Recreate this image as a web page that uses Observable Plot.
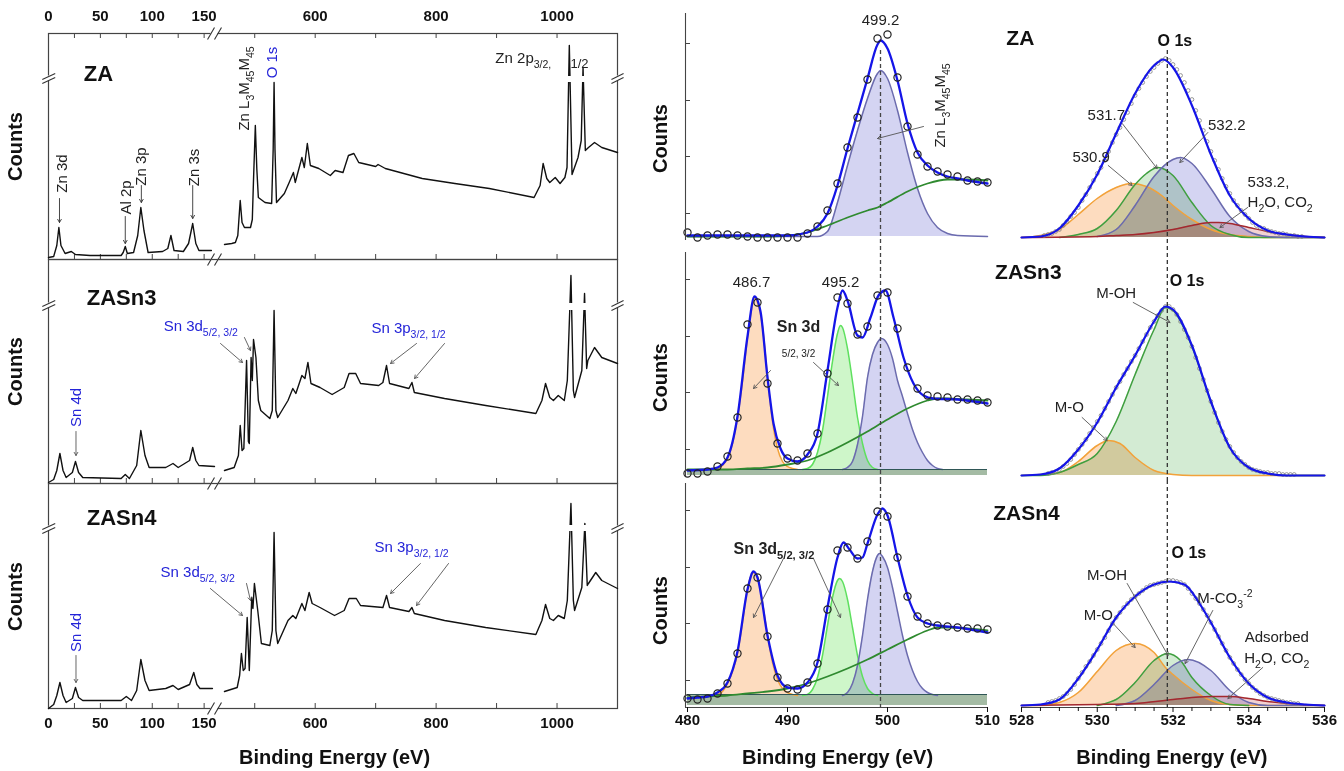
<!DOCTYPE html>
<html><head><meta charset="utf-8">
<script src="https://cdn.jsdelivr.net/npm/d3@7"></script>
<script src="https://cdn.jsdelivr.net/npm/@observablehq/plot@0.6"></script>
<style>
body{margin:0;background:#fff;}
#fig{position:relative;width:1344px;height:771px;overflow:hidden;background:#fff;}
#fig svg{position:absolute;overflow:visible;}
#fig g[aria-label="x-axis tick label"]{font-weight:bold;font-size:15px;}
</style></head><body><div id="fig"></div>
<script>
// ---------------- DATA ----------------
// Survey spectra: [binding energy (eV), counts (a.u.)], two segments of a broken axis
const surveyZA_lo = [[0,2],[5,3],[8,14],[10,32],[12,14],[16,6],[22,8],[26,5],[40,4],[70,4],[72,7],[74,13],[76,6],[82,7],[86,24],[89,52],[92,29],[96,7],[110,8],[115,11],[118,24],[121,9],[130,8],[135,16],[139,36],[142,16],[145,9],[157,9]];
const surveyZA_hi = [[450,15],[462,16],[468,17],[472,24],[476,59],[479,37],[483,32],[493,32],[496,40],[498,80],[501,134],[503.5,90],[506,62],[517,57],[528,56],[530.5,110],[532,177],[533.5,110],[536,57],[549,66],[557,77],[564,87],[567,77],[578,102],[582,92],[587,116],[592,94],[606,91],[625,84],[633,89],[646,87],[655,104],[664,106],[672,97],[700,93],[704,95],[716,91],[777,81],[831,76],[888,71],[962,62],[972,74],[977,96],[983,81],[988,77],[997,82],[1005,76],[1013,82],[1016.5,92],[1020.3,214],[1024.8,85],[1034.7,102],[1040,119],[1043,192],[1046.8,109],[1052,112],[1062,117],[1074,112],[1100,107]];
const surveySn3_lo = [[0,1],[5,4],[8,13],[11,30],[14,13],[17,6],[23,11],[26,22],[29,11],[33,6],[70,5],[74,9],[78,5],[85,18],[89,53],[93,28],[97,16],[113,16],[120,20],[125,16],[136,23],[139,36],[142,23],[145,18],[160,17]];
const surveySn3_hi = [[450,13],[466,16],[473,28],[476,58],[479,33],[482,35],[486.5,123],[489.5,42],[491,40],[494,126],[496,103],[498,144],[502,126],[506,83],[510,73],[525,65],[529,73],[532,173],[535,73],[538,66],[555,83],[563,95],[568,90],[578,108],[583,105],[588,121],[593,100],[608,96],[628,89],[648,96],[656,110],[667,110],[675,100],[705,98],[712,101],[718,118],[723,100],[755,95],[760,101],[764,91],[814,85],[882,78],[965,70],[975,83],[981,100],[988,86],[994,83],[1002,88],[1012,83],[1017,103],[1023,208],[1027,93],[1029,86],[1041,113],[1045.5,190],[1049,115],[1051,123],[1062,136],[1074,126],[1100,120]];
const surveySn4_lo = [[0,0],[5,4],[8,13],[11,26],[14,13],[17,6],[23,10],[26,21],[29,11],[33,8],[70,8],[75,12],[80,8],[85,18],[89,49],[93,28],[97,18],[113,20],[120,23],[125,19],[136,24],[140,36],[143,24],[146,20],[158,20]];
const surveySn4_hi = [[450,17],[471,21],[475,33],[478,55],[481,38],[484,40],[487.5,91],[491,38],[495,111],[497,100],[499.5,125],[505,98],[511,65],[525,63],[529,78],[532,176],[535,78],[538,65],[555,88],[563,93],[568,90],[578,105],[583,98],[590,116],[595,105],[608,101],[632,93],[648,98],[656,110],[668,110],[675,103],[712,101],[718,113],[723,101],[755,97],[760,101],[764,95],[814,88],[882,81],[965,74],[975,88],[981,104],[988,90],[994,88],[1002,93],[1012,90],[1017,108],[1023,205],[1027,108],[1029,98],[1041,121],[1046,185],[1050,123],[1052,125],[1064,136],[1074,128],[1100,120]];
const surveyTicksMajor = [0,50,100,150,600,800,1000];
const surveyTicksMinor = [25,50,75,100,125,150,500,600,700,800,900,1000];
const surveyBreak = [160, 450]; // the x axis jumps from 160 eV to 450 eV

// Zn LMM / Sn 3d region (480-510 eV): measured points every 1 eV from 480
const pointsStart = 480;
const znPointsZA  = [8,3,5,6,6,5,4,3,3,3,3,3,7,14,30,57,93,123,161,202,206,163,114,86,74,69,66,64,60,59,58];
const znPointsSn3 = [3,3,5,10,20,59,152,174,93,33,18,16,23,43,103,179,173,142,150,181,184,148,109,88,81,80,79,77,77,76,74];
const znPointsSn4 = [9,8,9,14,24,54,119,130,71,30,19,18,25,44,98,157,160,149,166,196,191,150,111,91,84,82,81,80,79,79,78];
const znEnvZA  = [[480,5],[486,5],[490,5],[492,8],[493,14],[494,27],[495,55],[496,92],[497,127],[498,162],[499,196],[499.3,200],[500,192],[501,160],[502,117],[503,88],[504,75],[505,68],[506,64],[507,62],[508,60],[510,57]];
const znLmmZA  = [[480,4],[493,4],[494,9],[495,38],[496,75],[497,110],[498,142],[499,167],[499.3,170],[500,162],[501,130],[502,88],[503,52],[504,27],[505,13],[506,7],[507,5],[510,4]];
const znBgZA   = [[480,4],[488,4],[490,5],[492,8],[494,15],[496,23],[498,30],[499,33],[500,38],[502,49],[504,57],[506,61],[508,61],[510,60]];
const sn3Env   = [[480,6],[482,7],[483,9],[484,19],[485,60],[486,140],[486.7,180],[487.3,165],[488,99],[488.6,53],[489.3,28],[490,18],[491,15],[492,22],[493,43],[494,106],[495,169],[495.5,186],[496,176],[497,141],[497.5,139],[498.3,159],[499.1,181],[499.8,186],[500.6,159],[501.6,119],[502.6,93],[503.6,81],[504.6,78],[507,77],[510,73]];
const sn3D52    = [[482.5,7],[483,8],[483.5,11],[484,18],[484.5,33],[485,59],[485.5,95],[486,139],[486.5,172],[486.7,179],[487,174],[487.5,150],[488,100],[488.5,55],[489,28],[489.5,15],[490,10],[490.5,8],[491,7]];
const sn3D32    = [[491.5,7],[492,8],[492.5,12],[493,24],[493.5,46],[494,80],[494.5,115],[495,143],[495.3,151],[495.5,149],[496,128],[496.5,95],[497,59],[497.5,33],[498,16],[498.5,9],[499,7]];
const sn3Lmm    = [[495.5,7],[496,9],[496.5,15],[497,32],[497.5,60],[498,99],[498.5,122],[499,134],[499.4,138],[500,132],[500.5,118],[501,96],[501.5,80],[502,63],[502.5,47],[503,34],[503.5,24],[504,16],[504.5,11],[505,8],[505.5,7]];
const sn3Bg     = [[480,7],[484,7],[486,8],[488,9],[490,12],[492,16],[494,24],[496,34],[498,45],[500,57],[502,68],[504,76],[505,78],[506,78],[508,77],[510,76]];
const sn4Env   = [[480,9],[481,10],[482,11],[483,15],[484,25],[485,56],[486,118],[486.6,136],[487,130],[488,72],[489,32],[490,20],[491,19],[492,25],[493,45],[494,100],[495,150],[495.6,165],[496.2,158],[497,149],[497.5,150],[498,164],[499,193],[499.5,199],[500,192],[501,150],[502,112],[503,90],[504,84],[505,82],[507,80],[510,75]];
const sn4D52    = [[482,12],[482.5,12],[483,13],[483.5,16],[484,24],[484.5,36],[485,54],[485.5,85],[486,119],[486.5,134],[486.7,135],[487,131],[487.5,105],[488,72],[488.5,45],[489,28],[489.5,19],[490,15],[490.5,13],[491,12]];
const sn4D32    = [[491.5,12],[492,13],[492.5,18],[493,30],[493.5,52],[494,82],[494.5,110],[495,127],[495.2,129],[495.5,126],[496,108],[496.5,80],[497,52],[497.5,31],[498,19],[498.5,14],[499,12]];
const sn4Lmm    = [[495.5,12],[496,15],[496.5,24],[497,42],[497.5,72],[498,108],[498.5,136],[499,152],[499.2,154],[499.5,151],[500,140],[500.5,120],[501,96],[501.5,72],[502,52],[502.5,37],[503,26],[503.5,19],[504,15],[504.5,13],[505,12]];
const sn4Bg     = [[480,10],[482,11],[484,12],[486,14],[488,16],[490,19],[492,24],[494,31],[496,39],[498,48],[500,58],[502,68],[504,77],[505,80],[506,80],[508,79],[510,77]];
const bandSn3 = [1, 7];
const bandSn4 = [2, 13];

// O 1s region (528-536 eV): measured points every 0.1 eV
const o1sStep = 0.1;
const o1sStartZA = 528.6;
const o1sPointsZA = [5,6,7,9,11,15,19,24,28,33,40,46,53,60,67,73,80,89,98,106,113,121,128,137,145,152,158,164,169,173,177,180,182,180,176,171,165,158,150,141,130,120,110,99,89,80,71,62,54,47,40,35,30,26,22,18,15,13,12,10,9,8,7,7,6,5,5,4,4];
const o1sStartSn3 = 528.7;
const o1sPointsSn3 = [3,4,5,7,10,13,17,22,27,32,37,43,49,55,61,68,75,82,89,95,102,108,115,121,128,135,142,149,155,161,166,170,170,167,162,155,147,139,130,119,108,97,86,75,64,54,45,37,30,24,19,15,12,9,7,6,5,4,4,3,3,3,2,2,2,2];
const o1sStartSn4 = 528.7;
const o1sPointsSn4 = [5,6,7,9,11,14,18,23,29,35,41,46,52,58,64,70,77,84,90,95,100,104,108,111,114,117,120,122,123,124,125,126,127,127,126,125,123,119,114,109,104,98,92,85,78,71,64,57,50,44,38,33,28,24,20,17,14,12,10,9,8,7,6,5,5,4,4];
const oEnvZA   = [[528,3],[528.5,4],[529,12],[529.5,35],[530,66],[530.5,107],[531,147],[531.5,175],[531.75,181],[532,173],[532.5,135],[533,86],[533.5,45],[534,22],[534.5,10],[535,6],[535.5,4],[536,3]];
const o530_9   = [[528,3],[528.5,5],[529,11],[529.5,26],[530,42],[530.5,53],[530.9,57],[531.3,54],[531.7,45],[532,35],[532.5,21],[533,11],[533.5,6],[534,4],[534.5,3],[536,3]];
const o531_7   = [[529,3],[529.5,6],[530,12],[530.5,30],[531,56],[531.3,67],[531.6,73],[532,65],[532.5,38],[533,15],[533.5,6],[534,3],[536,3]];
const o532_2   = [[530,4],[530.5,11],[531,35],[531.5,64],[532,81],[532.2,83],[532.5,77],[533,52],[533.5,24],[534,9],[534.5,4],[535,3],[536,3]];
const o533_2   = [[528,3],[530,4],[530.5,5],[531,6],[531.5,8],[532,11],[532.5,15],[533,18],[533.2,18],[533.5,17],[534,13],[534.5,9],[535,6],[535.5,4],[536,3]];
const oEnvSn3  = [[528,1],[528.5,2],[529,8],[529.5,27],[530,54],[530.5,89],[531,121],[531.5,155],[531.8,170],[532,167],[532.5,131],[533,75],[533.5,29],[534,9],[534.5,3],[535,1],[536,1]];
const oMO_Sn3  = [[528,1],[528.5,2],[529,4],[529.5,15],[530,31],[530.3,36],[530.6,33],[531,19],[531.5,6],[532,2],[532.5,1],[536,1]];
const oMOH_Sn3 = [[528,1],[528.5,1],[529,4],[529.5,12],[530,23],[530.5,55],[531,102],[531.5,147],[531.8,169],[532,166],[532.5,130],[533,75],[533.5,29],[534,9],[534.5,3],[535,1],[536,1]];
const oEnvSn4  = [[528,2],[528.5,3],[529,8],[529.5,29],[530,58],[530.5,90],[531,111],[531.5,123],[531.9,126],[532.3,123],[532.7,104],[533,85],[533.5,50],[534,24],[534.5,10],[535,5],[535.5,3],[536,2]];
const oMO_Sn4  = [[528,2],[528.5,2],[529,5],[529.5,15],[530,36],[530.5,57],[531,64],[531.5,55],[531.8,40],[532,33],[532.5,18],[533,7],[533.5,3],[534,2],[536,2]];
const oMOH_Sn4 = [[530,2],[530.3,5],[530.5,8],[531,25],[531.5,47],[531.85,54],[532.2,47],[532.5,30],[533,12],[533.5,3],[534,2]];
const oMCO_Sn4 = [[530.5,2],[531,7],[531.5,23],[532,42],[532.4,48],[533,37],[533.5,17],[534,5],[534.5,2],[536,2]];
const oAds_Sn4 = [[528,2],[530,3],[531,4],[532,8],[533,11],[533.5,11],[534,9],[534.5,6],[535,4],[536,2]];
const refZn = 499.3, refO = 531.85;

// ---------------- helpers ----------------
const FONT = "'Liberation Sans', Arial, Helvetica, sans-serif";
const fig = document.getElementById("fig");
const C = {orange:"#f2a23a", orangeFill:"#fddcbf", green:"#3f9f3f", greenFill:"#d3ebd3", lgreen:"#5ee05e", lgreenFill:"#cef6c9",
  purple:"#6b6bae", purpleFill:"#d4d4f2", red:"#a3282f", redFill:"#f2d2d2", blue:"#1515e8", bg:"#2f8a2f",
  band:"#a4bba4", bandLine:"#2f5656", ink:"#111", note:"#222", snBlue:"#2424d8", arrow:"#555"};

function subify(svg) {
  const ns = "http://www.w3.org/2000/svg";
  for (const el of svg.querySelectorAll("text, tspan")) {
    if (el.children.length) continue;
    const s = el.textContent;
    if (!/[_^]\{/.test(s)) continue;
    const fs = parseFloat(getComputedStyle(el).fontSize) || 15;
    el.textContent = "";
    let cur = 0;
    for (const p of s.split(/([_^]\{[^}]*\})/)) {
      if (!p) continue;
      const m = p.match(/^([_^])\{(.*)\}$/);
      const ts = document.createElementNS(ns, "tspan");
      const target = m ? (m[1] === "_" ? 0.32 * fs : -0.42 * fs) : 0;
      if (target !== cur) { ts.setAttribute("dy", (target - cur).toFixed(2)); cur = target; }
      if (m) ts.setAttribute("font-size", (0.7 * fs).toFixed(1));
      ts.textContent = m ? m[2] : p;
      el.appendChild(ts);
    }
  }
}
function mk(opts, left, top) {
  const svg = Plot.plot({...opts, style: {background: "transparent", overflow: "visible", fontFamily: FONT, fontSize: "15px", color: "#111"}});
  svg.style.position = "absolute"; svg.style.left = left + "px"; svg.style.top = top + "px";
  fig.appendChild(svg);
  subify(svg);
  return svg;
}
const X = d => d[0], Y = d => d[1];
const txt = (arr, o = {}) => Plot.text(arr, {x: "x", y: "y", text: "t", fontFamily: FONT, fontSize: 15, fill: C.note, ...o});
const arrows = (arr, color = C.arrow) => Plot.arrow(arr, {x1: "x1", y1: "y1", x2: "x2", y2: "y2", stroke: color, strokeWidth: 0.9, headLength: 6});

// ---------------- LEFT: survey spectra ----------------
// broken axis: 0–160 eV and 450–1100 eV share one pixel axis, with a short gap between them
const L0 = 48, L1 = 214, R0 = 224, R1 = 617;
const brk = v => v <= surveyBreak[0] ? L0 + v * (L1 - L0) / surveyBreak[0]
  : v >= surveyBreak[1] ? R0 + (v - surveyBreak[1]) * (R1 - R0) / (1100 - surveyBreak[1])
  : L1 + (v - surveyBreak[0]) * (R0 - L1) / (surveyBreak[1] - surveyBreak[0]);
const xSurvey = {transform: brk, domain: [L0, R1], range: [L0, R1]};
function xBreak(y) {
  return [
    Plot.rect([0], {x1: 156.6, x2: 261.5, y1: y - 1.8, y2: y + 1.8, fill: "white"}),
    Plot.link([0], {x1: 153.3, y1: y - 6, x2: 160, y2: y + 6, stroke: "#333", strokeWidth: 1.1}),
    Plot.link([0], {x1: 160, y1: y - 6, x2: 363, y2: y + 6, stroke: "#333", strokeWidth: 1.1})
  ];
}
function yBreak(y) {
  return [
    Plot.rect([0], {x1: -1.8, x2: 1.8, y1: y - 2.5, y2: y + 2.5, fill: "white"}),
    Plot.link([0], {x1: -6, y1: y - 5, x2: 6.5, y2: y + 1, stroke: "#333", strokeWidth: 1.1}),
    Plot.link([0], {x1: -6, y1: y - 1, x2: 6.5, y2: y + 5, stroke: "#333", strokeWidth: 1.1}),
    Plot.rect([0], {x1: 1097, x2: 1103, y1: y - 2.5, y2: y + 2.5, fill: "white"}),
    Plot.link([0], {x1: 1090, y1: y - 5, x2: 1110, y2: y + 1, stroke: "#333", strokeWidth: 1.1}),
    Plot.link([0], {x1: 1090, y1: y - 1, x2: 1110, y2: y + 5, stroke: "#333", strokeWidth: 1.1})
  ];
}
const tickLabels = (y) => surveyTicksMajor.map(v => ({x: v, y, t: String(v)}));
function survey(cfg) {
  const marks = [
    Plot.frame({stroke: "#444", strokeWidth: 1.2}),
    Plot.ruleX(surveyTicksMinor, {y1: 0, y2: 5, stroke: "#444"}),
    cfg.top ? Plot.ruleX(surveyTicksMinor, {y1: cfg.ymax - 5, y2: cfg.ymax, stroke: "#444"}) : null,
    Plot.line(cfg.lo, {x: X, y: Y, stroke: C.ink, strokeWidth: 1.4}),
    Plot.line(cfg.hi, {x: X, y: Y, stroke: C.ink, strokeWidth: 1.4}),
    Plot.rect([0], {x1: 1014, x2: 1050, y1: cfg.gap[0], y2: cfg.gap[1], fill: "white"}),
    xBreak(0), cfg.top ? xBreak(cfg.ymax) : null,
    yBreak(cfg.yb),
    txt([{x: -31.8, y: cfg.countsY, t: "Counts"}], {rotate: -90, fontSize: 20, fontWeight: "bold", fill: "#111"}),
    txt([cfg.title], {fontSize: 22, fontWeight: "bold", fill: "#111"}),
    txt(cfg.rot || [], {rotate: -90, fill: cfg.color}),
    txt(cfg.rotBlue || [], {rotate: -90, fill: C.snBlue}),
    txt(cfg.hor || [], {textAnchor: "start", fill: cfg.color}),
    txt(cfg.small || [], {textAnchor: "start", fontSize: 13, fill: cfg.color}),
    arrows(cfg.arrows || [], cfg.arrowColor || "#333"),
    cfg.top ? txt(tickLabels(cfg.ymax), {dy: -17, fontWeight: "bold", fill: "#111"}) : null,
    cfg.bottom ? txt(tickLabels(0), {dy: 15, fontWeight: "bold", fill: "#111"}) : null,
    cfg.bottom ? txt([{x: 632, y: -49, t: "Binding Energy (eV)"}], {fontSize: 20, fontWeight: "bold", fill: "#111"}) : null
  ];
  return mk({
    width: 640, height: cfg.height, marginLeft: 48, marginRight: 23, marginTop: cfg.mt, marginBottom: cfg.mb,
    x: {...xSurvey, axis: null},
    y: {domain: [0, cfg.ymax], axis: null},
    marks
  }, 0, cfg.svgTop);
}
survey({svgTop: 0, height: 262, mt: 33, mb: 3, ymax: 226, top: true, lo: surveyZA_lo, hi: surveyZA_hi, gap: [177, 183], yb: 181, countsY: 113,
  title: {x: 48.2, y: 186, t: "ZA"}, color: C.note,
  rot: [{x: 13.5, y: 86, t: "Zn 3d"}, {x: 75, y: 62, t: "Al 2p"}, {x: 89.6, y: 93, t: "Zn 3p"}, {x: 140, y: 92, t: "Zn 3s"}, {x: 483, y: 171, t: "Zn L_{3}M_{45}M_{45}"}],
  rotBlue: [{x: 529, y: 197, t: "O 1s"}],
  hor: [{x: 898, y: 201, t: "Zn 2p_{3/2,}"}],
  small: [{x: 1022.3, y: 196, t: "1/2"}],
  arrows: [{x1: 10.6, y1: 61, x2: 10.6, y2: 37}, {x1: 74, y1: 43, x2: 74, y2: 16}, {x1: 89.5, y1: 74, x2: 89.5, y2: 57}, {x1: 139, y1: 74, x2: 139, y2: 41}]
});
survey({svgTop: 254, height: 234, mt: 5, mb: 5, ymax: 224, lo: surveySn3_lo, hi: surveySn3_hi, gap: [173, 180], yb: 178, countsY: 112,
  title: {x: 70.4, y: 186, t: "ZASn3"}, color: C.snBlue, arrowColor: "#555",
  rot: [{x: 27, y: 76, t: "Sn 4d"}],
  hor: [{x: 111, y: 157, t: "Sn 3d_{5/2, 3/2}"}, {x: 693, y: 155, t: "Sn 3p_{3/2, 1/2}"}],
  arrows: [{x1: 26.5, y1: 52, x2: 26.5, y2: 28}, {x1: 334, y1: 140, x2: 479.8, y2: 121}, {x1: 483, y1: 146, x2: 493, y2: 133}, {x1: 767.6, y1: 140, x2: 724.6, y2: 120}, {x1: 813.9, y1: 140, x2: 764.3, y2: 105}]
});
survey({svgTop: 478, height: 293, mt: 5, mb: 63, ymax: 225, bottom: true, lo: surveySn4_lo, hi: surveySn4_hi, gap: [177, 183], yb: 180, countsY: 112,
  title: {x: 70.4, y: 191, t: "ZASn4"}, color: C.snBlue, arrowColor: "#555",
  rot: [{x: 27, y: 76, t: "Sn 4d"}],
  hor: [{x: 108, y: 136, t: "Sn 3d_{5/2, 3/2}"}, {x: 698, y: 161, t: "Sn 3p_{3/2, 1/2}"}],
  arrows: [{x1: 26.5, y1: 53, x2: 26.5, y2: 26}, {x1: 156, y1: 120, x2: 479.8, y2: 93}, {x1: 486.4, y1: 125, x2: 493, y2: 108}, {x1: 774, y1: 145, x2: 724.6, y2: 115}, {x1: 820.5, y1: 145, x2: 767.6, y2: 103}]
});

// ---------------- fitted panels ----------------
const rows = [
  {svgTop: 0, height: 246, mt: 13, mb: 6, ymax: 227, dash: [190, -6]},
  {svgTop: 246, height: 234, mt: 6, mb: 4, ymax: 224, dash: [230, -4]},
  {svgTop: 480, height: 291, mt: 3, mb: 64, ymax: 224, dash: [227, 0]}
];
function compMarks(list, base) {
  const fills = list.filter(c => c.fill).map(c => Plot.areaY(c.data, {x: X, y1: base, y2: Y, fill: c.fill, curve: "monotone-x", mixBlendMode: "multiply"}));
  const lines = list.map(c => Plot.line(c.data, {x: X, y: Y, stroke: c.stroke, strokeWidth: c.sw || 1.5, curve: "monotone-x"}));
  return [fills, lines];
}
function zn(i, cfg) {
  const r = rows[i];
  const marks = [
    cfg.band ? Plot.rect([0], {x1: 480, x2: 510, y1: cfg.band[0], y2: cfg.band[1], fill: C.band}) : null,
    compMarks(cfg.comps, cfg.base),
    cfg.band ? Plot.ruleY([cfg.band[1]], {x1: 480, x2: 510, stroke: C.bandLine, strokeWidth: 1.2}) : null,
    Plot.line(cfg.bgc, {x: X, y: Y, stroke: C.bg, strokeWidth: 1.8, curve: "monotone-x"}),
    Plot.line(cfg.env, {x: X, y: Y, stroke: C.blue, strokeWidth: 2.3, curve: "monotone-x"}),
    Plot.dot(cfg.pts, {x: (d, j) => pointsStart + j, y: d => d, r: 3.6, stroke: "#222", strokeWidth: 1.2, fill: "none"}),
    Plot.ruleX([refZn], {y1: r.dash[0], y2: r.dash[1], stroke: "#444", strokeWidth: 1.3, strokeDasharray: "4,3"}),
    Plot.ruleX([479.8], {y1: 0, y2: r.ymax, stroke: "#444", strokeWidth: 1.1}),
    Plot.ruleY([27, 84, 140, 197], {x1: 479.8, x2: 480.3, stroke: "#444"}),
    txt([{x: 477.3, y: cfg.countsY, t: "Counts"}], {rotate: -90, fontSize: 20, fontWeight: "bold", fill: "#111"}),
    txt(cfg.labels || []),
    txt(cfg.rot || [], {rotate: -90}),
    txt(cfg.bold || [], {fontWeight: "bold", fontSize: 16}),
    txt(cfg.boldStart || [], {fontWeight: "bold", fontSize: 16, textAnchor: "start"}),
    txt(cfg.tiny || [], {fontSize: 10}),
    arrows(cfg.arrows || []),
    i === 2 ? Plot.ruleY([0], {stroke: "#444", strokeWidth: 1.1}) : null,
    i === 2 ? Plot.axisX({ticks: [480, 490, 500, 510], tickSize: 5, tickPadding: 2, fontSize: 15, fontWeight: "bold", label: null}) : null,
    i === 2 ? txt([{x: 495, y: -50, t: "Binding Energy (eV)"}], {fontSize: 20, fontWeight: "bold", fill: "#111"}) : null
  ];
  return mk({
    width: 360, height: r.height, marginLeft: 45, marginRight: 13, marginTop: r.mt, marginBottom: r.mb,
    x: {domain: [480, 510], range: [47, 347], ...(i === 2 ? {} : {axis: null})},
    y: {domain: [0, r.ymax], axis: null},
    marks
  }, 640, r.svgTop);
}
zn(0, {base: 4, env: znEnvZA, bgc: znBgZA, pts: znPointsZA, countsY: 102,
  comps: [{data: znLmmZA, stroke: C.purple, fill: C.purpleFill}],
  labels: [{x: 499.3, y: 220, t: "499.2"}],
  rot: [{x: 505.3, y: 135, t: "Zn L_{3}M_{45}M_{45}"}],
  arrows: [{x1: 503.6, y1: 114, x2: 499.0, y2: 102}]
});
zn(1, {base: 7, band: bandSn3, env: sn3Env, bgc: sn3Bg, pts: znPointsSn3, countsY: 99,
  comps: [{data: sn3D52, stroke: C.orange, fill: C.orangeFill}, {data: sn3D32, stroke: C.lgreen, fill: C.lgreenFill}, {data: sn3Lmm, stroke: C.purple, fill: C.purpleFill}],
  labels: [{x: 486.4, y: 194, t: "486.7"}, {x: 495.3, y: 194, t: "495.2"}],
  bold: [{x: 491.1, y: 150, t: "Sn 3d"}],
  tiny: [{x: 491.1, y: 123, t: "5/2, 3/2"}],
  arrows: [{x1: 488.3, y1: 106, x2: 486.6, y2: 88}, {x1: 492.6, y1: 114, x2: 495.1, y2: 91}]
});
zn(2, {base: 12, band: bandSn4, env: sn4Env, bgc: sn4Bg, pts: znPointsSn4, countsY: 97,
  comps: [{data: sn4D52, stroke: C.orange, fill: C.orangeFill}, {data: sn4D32, stroke: C.lgreen, fill: C.lgreenFill}, {data: sn4Lmm, stroke: C.purple, fill: C.purpleFill}],
  boldStart: [{x: 484.6, y: 159, t: "Sn 3d_{5/2, 3/2}"}],
  arrows: [{x1: 489.6, y1: 149, x2: 486.6, y2: 90}, {x1: 492.6, y1: 149, x2: 495.3, y2: 90}]
});

function o1s(i, cfg) {
  const r = rows[i];
  const marks = [
    compMarks(cfg.comps, cfg.base),
    Plot.dot(cfg.pts, {x: (d, j) => cfg.start + j * o1sStep, y: d => d, r: 1.9, stroke: "#808080", strokeWidth: 0.8, fill: "none"}),
    Plot.line(cfg.env, {x: X, y: Y, stroke: C.blue, strokeWidth: 2.2, curve: "monotone-x"}),
    Plot.ruleX([refO], {y1: r.dash[0], y2: r.dash[1], stroke: "#333", strokeWidth: 1.3, strokeDasharray: "4,3"}),
    txt([cfg.title], {fontSize: 21, fontWeight: "bold", fill: "#111"}),
    txt([cfg.o1s], {fontSize: 16, fontWeight: "bold", fill: "#111"}),
    txt(cfg.labels || []),
    txt(cfg.startLabels || [], {textAnchor: "start"}),
    arrows(cfg.arrows || []),
    i === 2 ? Plot.ruleY([0], {stroke: "#444", strokeWidth: 1.1}) : null,
    i === 2 ? Plot.axisX({ticks: [528, 530, 532, 534, 536], tickSize: 5, tickPadding: 2, fontSize: 15, fontWeight: "bold", label: null}) : null,
    i === 2 ? Plot.axisX({ticks: [528.5, 529, 529.5, 530.5, 531, 531.5, 532.5, 533, 533.5, 534.5, 535, 535.5], tickSize: 4, tickFormat: () => "", label: null}) : null,
    i === 2 ? txt([{x: 531.97, y: -50, t: "Binding Energy (eV)"}], {fontSize: 20, fontWeight: "bold", fill: "#111"}) : null
  ];
  return mk({
    width: 344, height: r.height, marginLeft: 21, marginRight: 20, marginTop: r.mt, marginBottom: r.mb,
    x: {domain: [528, 536], range: [21, 324], ...(i === 2 ? {} : {axis: null})},
    y: {domain: [0, r.ymax], axis: null},
    marks
  }, 1000, r.svgTop);
}
o1s(0, {base: 3, env: oEnvZA, pts: o1sPointsZA, start: o1sStartZA,
  comps: [{data: o530_9, stroke: C.orange, fill: C.orangeFill}, {data: o531_7, stroke: C.green, fill: C.greenFill}, {data: o532_2, stroke: C.purple, fill: C.purpleFill}, {data: o533_2, stroke: C.red, fill: C.redFill}],
  title: {x: 527.97, y: 202, t: "ZA"}, o1s: {x: 532.05, y: 200, t: "O 1s"},
  labels: [{x: 530.24, y: 125, t: "531.7"}, {x: 529.84, y: 83, t: "530.9"}, {x: 533.42, y: 115, t: "532.2"}],
  startLabels: [{x: 533.97, y: 58, t: "533.2,"}, {x: 533.97, y: 38, t: "H_{2}O, CO_{2}"}],
  arrows: [{x1: 530.66, y1: 117, x2: 531.58, y2: 72}, {x1: 530.29, y1: 75, x2: 530.92, y2: 55}, {x1: 532.92, y1: 108, x2: 532.18, y2: 78}, {x1: 533.97, y1: 33, x2: 533.24, y2: 13}]
});
o1s(1, {base: 1, env: oEnvSn3, pts: o1sPointsSn3, start: o1sStartSn3,
  comps: [{data: oMO_Sn3, stroke: C.orange, fill: C.orangeFill}, {data: oMOH_Sn3, stroke: C.green, fill: C.greenFill}],
  title: {x: 528.18, y: 204, t: "ZASn3"}, o1s: {x: 532.37, y: 196, t: "O 1s"},
  labels: [{x: 530.5, y: 183, t: "M-OH"}, {x: 529.26, y: 69, t: "M-O"}],
  arrows: [{x1: 530.95, y1: 174, x2: 531.92, y2: 154}, {x1: 529.6, y1: 59, x2: 530.26, y2: 36}]
});
o1s(2, {base: 2, env: oEnvSn4, pts: o1sPointsSn4, start: o1sStartSn4,
  comps: [{data: oMO_Sn4, stroke: C.orange, fill: C.orangeFill}, {data: oMOH_Sn4, stroke: C.green, fill: C.greenFill}, {data: oMCO_Sn4, stroke: C.purple, fill: C.purpleFill}, {data: oAds_Sn4, stroke: C.red, fill: C.redFill}],
  title: {x: 528.13, y: 194, t: "ZASn4"}, o1s: {x: 532.42, y: 155, t: "O 1s"},
  labels: [{x: 530.26, y: 132, t: "M-OH"}, {x: 530.03, y: 92, t: "M-O"}, {x: 533.37, y: 109, t: "M-CO_{3}^{-2}"}, {x: 534.74, y: 70, t: "Adsorbed"}, {x: 534.74, y: 49, t: "H_{2}O, CO_{2}"}],
  arrows: [{x1: 530.79, y1: 124, x2: 531.87, y2: 52}, {x1: 530.42, y1: 84, x2: 531, y2: 60}, {x1: 533.05, y1: 97, x2: 532.32, y2: 44}, {x1: 534.37, y1: 40, x2: 533.45, y2: 9}]
});
</script></body></html>
